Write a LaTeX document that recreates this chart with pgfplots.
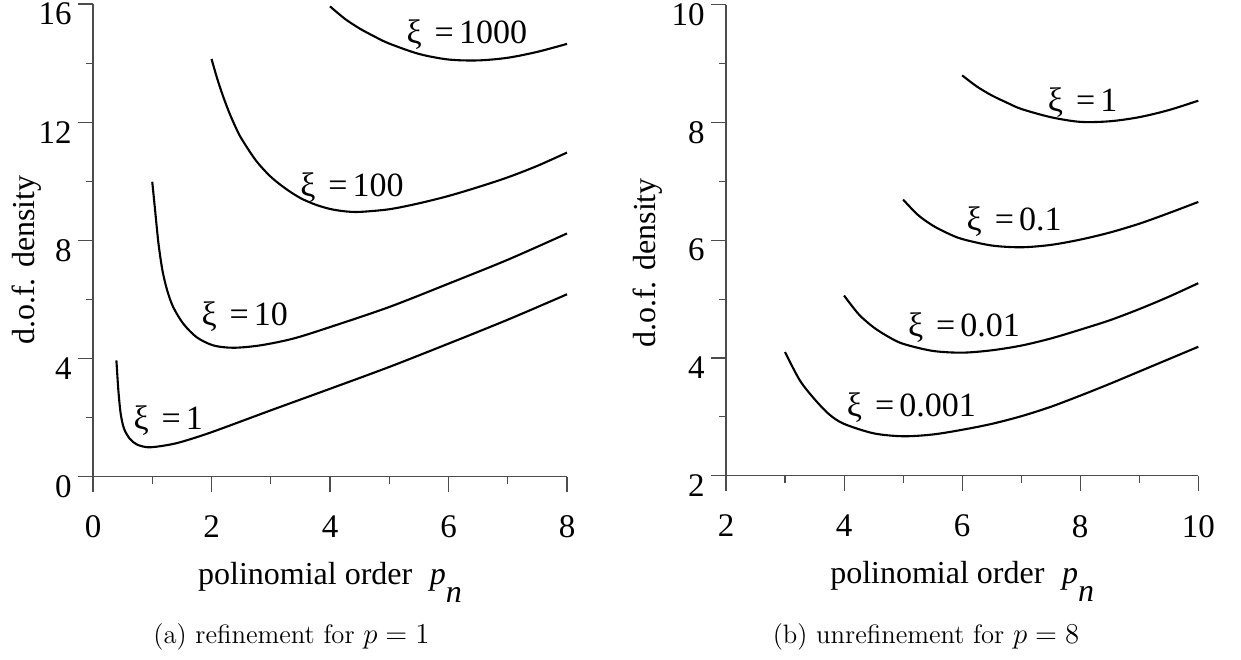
\documentclass[border=0pt]{standalone}
\usepackage{fontspec}
\newfontfamily\tnr{Liberation Serif}
\usepackage{pgfplots}
\pgfplotsset{compat=1.18}
\pgfplotsset{
  crv/.style={black, line width=1.05pt, smooth, tension=0.5, mark=none},
  myax/.style={
    scale only axis,
    axis x line=bottom, axis y line=left,
    axis line style={-, draw=black!70, line width=0.55pt},
    every tick/.style={draw=black!70, line width=0.55pt},
    tick align=outside,
    major tick length=7.5pt, minor tick length=3.5pt,
    minor tick num=1,
    tick label style={font=\tnr\fontsize{16.5}{19}\selectfont},
    /pgf/number format/assume math mode=true,
    xticklabel style={inner sep=0pt, yshift=-12pt},
    yticklabel style={inner sep=0pt, xshift=-3pt, yshift=-5pt},
    label style={font=\tnr\fontsize{16}{19}\selectfont},
    clip=false,
    anchor=south west,
  }
}
\newcommand{\xil}[1]{\tnr\fontsize{17}{20}\selectfont ξ\hspace{0.38em}=\hspace{0.15em}#1}
\newcommand{\xlab}{polinomial order\hspace{0.55em}\textit{p}\raisebox{-9pt}{\textit{n}}}
\begin{document}
\begin{tikzpicture}
\useasboundingbox (0pt,0pt) rectangle (620.5pt,-329.5pt);
% ---------------- left panel
\begin{axis}[myax,
  at={(46.5pt,-238.25pt)}, width=237pt, height=236.25pt,
  xmin=0, xmax=8, ymin=0, ymax=16,
  xtick={0,2,4,6,8}, ytick={0,4,8,12,16},
  xlabel={\xlab},
  ylabel={d.o.f. density},
  xlabel style={at={(axis description cs:0.5,-0.2275)}, anchor=base},
  ylabel style={at={(axis description cs:-0.124,0.458)}, anchor=base},
]
% xi = 1
\addplot[crv] coordinates {(0.395,3.93) (0.428,2.92) (0.468,2.12) (0.524,1.62) (0.62,1.28) (0.744,1.08) (0.93,0.99) (1.18,1.04) (1.47,1.16) (2,1.50) (3,2.24) (4,2.97) (5,3.71) (6,4.50) (7,5.31) (8,6.17)};
% xi = 10
\addplot[crv] coordinates {(1.0,9.98) (1.048,9.02) (1.105,7.89) (1.172,6.98) (1.251,6.31) (1.353,5.74) (1.522,5.18) (1.747,4.72) (2.029,4.44) (2.368,4.36) (2.82,4.44) (3.38,4.67) (4,5.06) (5,5.74) (6,6.53) (7,7.34) (8,8.23)};
% xi = 100
\addplot[crv] coordinates {(2.0,14.14) (2.1,13.45) (2.2,12.85) (2.3,12.32) (2.4,11.86) (2.5,11.46) (2.75,10.70) (3.0,10.15) (3.25,9.75) (3.5,9.43) (3.75,9.21) (4.0,9.06) (4.25,8.98) (4.5,8.96) (5,9.05) (5.5,9.25) (6,9.50) (6.5,9.80) (7,10.13) (7.5,10.52) (8,10.97)};
% xi = 1000
\addplot[crv] coordinates {(4.0,15.92) (4.25,15.50) (4.5,15.17) (4.75,14.90) (5.0,14.66) (5.5,14.31) (6.0,14.12) (6.5,14.09) (7.0,14.18) (7.5,14.38) (8.0,14.65)};
\node at (axis cs:6.31,14.97) {\xil{1000}};
\node at (axis cs:4.37,9.79) {\xil{100}};
\node at (axis cs:2.56,5.40) {\xil{10}};
\node at (axis cs:1.27,1.90) {\xil{1}};
\end{axis}
% ---------------- right panel
\begin{axis}[myax,
  at={(363pt,-237.85pt)}, width=236.15pt, height=235.5pt,
  xmin=2, xmax=10, ymin=2, ymax=10,
  xtick={2,4,6,8,10}, ytick={2,4,6,8,10},
  xlabel={\xlab},
  ylabel={d.o.f. density},
  xlabel style={at={(axis description cs:0.5,-0.2299)}, anchor=base},
  ylabel style={at={(axis description cs:-0.15,0.4516)}, anchor=base},
]
% xi = 1
\addplot[crv] coordinates {(6.0,8.80) (6.25,8.61) (6.5,8.46) (6.75,8.34) (7.0,8.23) (7.5,8.09) (8.0,8.01) (8.5,8.02) (9.0,8.09) (9.5,8.21) (10,8.37)};
% xi = 0.1
\addplot[crv] coordinates {(5.0,6.69) (5.25,6.43) (5.5,6.25) (5.75,6.12) (6.0,6.02) (6.5,5.91) (7,5.88) (7.5,5.92) (8,6.01) (8.5,6.13) (9,6.28) (9.5,6.46) (10,6.65)};
% xi = 0.01
\addplot[crv] coordinates {(4.0,5.06) (4.25,4.74) (4.5,4.52) (4.75,4.36) (5.0,4.24) (5.5,4.12) (6,4.09) (6.5,4.13) (7,4.21) (7.5,4.33) (8,4.48) (8.5,4.64) (9,4.83) (9.5,5.04) (10,5.27)};
% xi = 0.001
\addplot[crv] coordinates {(3.0,4.10) (3.25,3.62) (3.5,3.30) (3.75,3.04) (4.0,2.88) (4.5,2.72) (5.0,2.67) (5.5,2.70) (6.0,2.78) (6.5,2.88) (7,3.01) (7.5,3.17) (8,3.36) (8.5,3.56) (9,3.77) (9.5,3.98) (10,4.19)};
\node at (axis cs:8.04,8.34) {\xil{1}};
\node at (axis cs:6.88,6.31) {\xil{0.1}};
\node at (axis cs:6.03,4.52) {\xil{0.01}};
\node at (axis cs:5.14,3.16) {\xil{0.001}};
\end{axis}
% ---------------- captions
\node[anchor=base, inner sep=0pt, font=\fontsize{13.3}{16}\selectfont] at (145.75pt,-321.5pt) {(a) refinement for $p=1$};
\node[anchor=base, inner sep=0pt, font=\fontsize{13.3}{16}\selectfont] at (463pt,-321.5pt) {(b) unrefinement for $p=8$};
\end{tikzpicture}
\end{document}
